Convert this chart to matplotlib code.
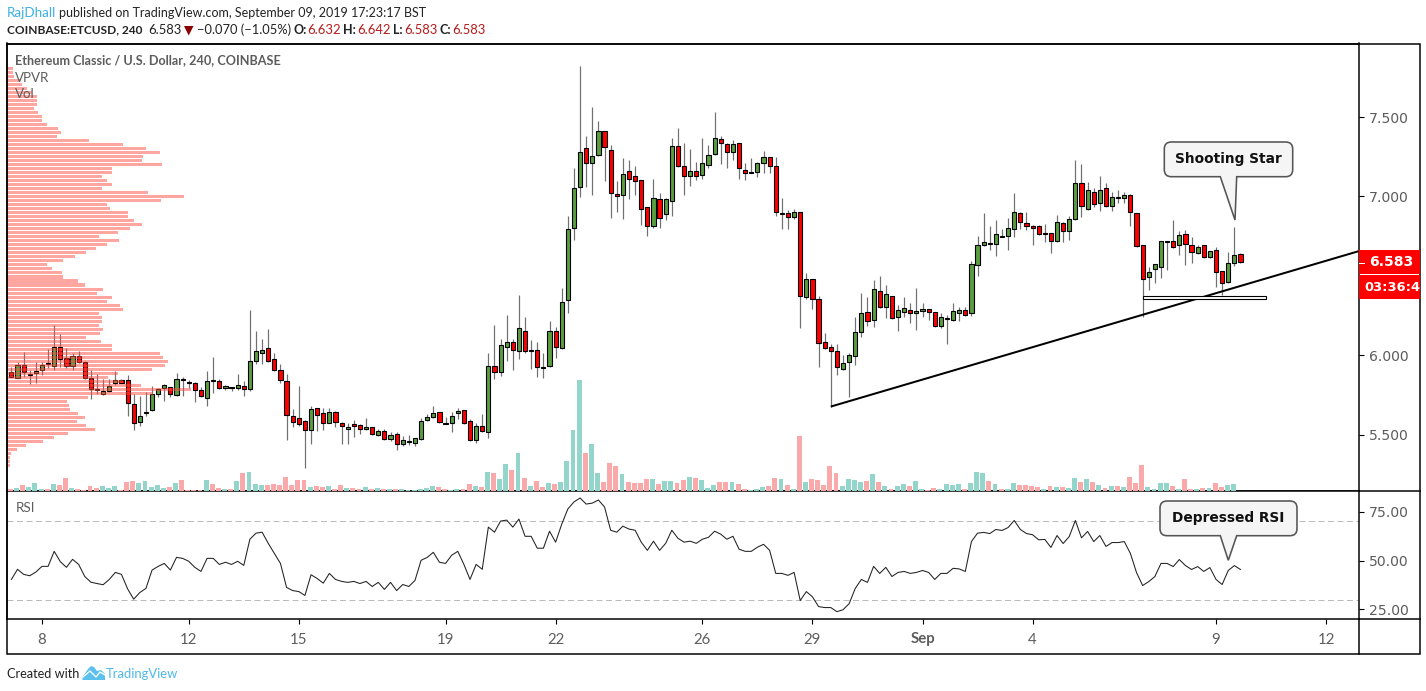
import matplotlib
matplotlib.use('Agg')
import matplotlib.pyplot as plt
import numpy as np
from matplotlib.path import Path
from matplotlib.patches import PathPatch, Rectangle, Polygon

# ETCUSD 4h candles
opens = [5.897,5.855,5.941,5.877,5.886,5.905,5.949,5.930,6.050,5.980,
         5.930,5.993,5.955,5.855,5.787,5.754,5.773,5.823,5.842,5.842,
         5.691,5.577,5.634,5.653,5.754,5.791,5.798,5.747,5.848,5.829,
         5.823,5.779,5.728,5.842,5.836,5.791,5.798,5.791,5.804,5.785,
         5.962,6.012,6.043,5.974,5.905,5.836,5.615,5.603,5.584,5.527,
         5.665,5.634,5.571,5.640,5.571,5.533,5.565,5.558,5.533,5.546,
         5.495,5.521,5.470,5.502,5.439,5.451,5.445,5.470,5.590,5.609,
         5.640,5.573,5.571,5.634,5.653,5.584,5.464,5.552,5.514,5.930,
         5.892,6.050,6.081,6.025,6.151,6.025,6.031,5.924,5.930,6.151,
         6.044,6.346,6.800,7.058,7.304,7.209,7.259,7.411,7.291,7.014,
         7.007,7.159,7.127,7.102,6.932,6.812,6.982,6.888,6.970,7.316,
         7.190,7.127,7.159,7.133,7.196,7.266,7.360,7.329,7.278,7.335,
         7.165,7.146,7.152,7.209,7.247,7.190,6.888,6.894,6.869,6.900,
         6.365,6.478,6.352,6.081,6.050,6.025,5.911,5.955,5.993,6.144,
         6.270,6.220,6.403,6.302,6.371,6.239,6.270,6.283,6.264,6.277,
         6.289,6.270,6.182,6.226,6.220,6.264,6.283,6.264,6.566,6.692,
         6.705,6.699,6.751,6.749,6.793,6.894,6.831,6.812,6.812,6.766,
         6.768,6.718,6.831,6.781,6.856,7.083,6.919,7.026,6.957,7.052,
         6.938,6.995,6.988,7.007,6.894,6.692,6.491,6.541,6.554,6.715,
         6.718,6.692,6.762,6.692,6.642,6.692,6.617,6.661,6.529,6.459,
         6.579,6.636]
closes = [5.861,5.941,5.892,5.882,5.899,5.941,5.943,6.050,5.978,5.930,
          5.993,5.955,5.855,5.785,5.783,5.773,5.804,5.842,5.827,5.697,
          5.571,5.615,5.640,5.754,5.785,5.810,5.754,5.848,5.842,5.823,
          5.779,5.741,5.836,5.836,5.791,5.804,5.791,5.810,5.785,5.962,
          6.025,6.031,5.962,5.905,5.842,5.621,5.577,5.565,5.527,5.659,
          5.621,5.571,5.640,5.577,5.552,5.546,5.552,5.533,5.546,5.502,
          5.521,5.470,5.495,5.439,5.464,5.458,5.477,5.584,5.609,5.634,
          5.577,5.569,5.615,5.647,5.571,5.464,5.552,5.521,5.930,5.892,
          6.062,6.081,6.031,6.170,6.025,6.031,5.924,5.918,6.151,6.050,
          6.333,6.793,7.052,7.278,7.209,7.253,7.411,7.310,7.020,7.001,
          7.140,7.108,7.096,6.919,6.812,6.989,6.863,6.982,7.316,7.190,
          7.127,7.159,7.127,7.209,7.259,7.367,7.335,7.278,7.329,7.178,
          7.146,7.152,7.209,7.247,7.190,6.900,6.894,6.869,6.900,6.371,
          6.478,6.352,6.075,6.043,6.025,5.924,5.949,5.999,6.144,6.264,
          6.214,6.415,6.302,6.384,6.233,6.283,6.295,6.264,6.277,6.289,
          6.270,6.182,6.239,6.233,6.277,6.283,6.251,6.573,6.692,6.711,
          6.699,6.762,6.747,6.800,6.900,6.837,6.812,6.800,6.762,6.770,
          6.718,6.837,6.781,6.856,7.083,6.938,7.039,6.951,7.039,6.938,
          6.995,6.988,7.007,6.900,6.686,6.478,6.522,6.573,6.718,6.720,
          6.680,6.755,6.699,6.648,6.680,6.617,6.655,6.522,6.453,6.579,
          6.629,6.585]
highs = [5.928,5.957,6.020,5.907,5.957,5.955,6.039,6.190,6.132,6.046,
         6.014,6.027,5.964,5.907,5.882,5.850,5.848,5.901,5.850,5.875,
         5.754,5.743,5.766,5.806,5.791,5.817,5.802,5.886,5.863,5.842,
         5.833,5.798,5.901,5.989,5.848,5.810,5.802,5.882,5.838,6.285,
         6.153,6.102,6.165,6.014,5.945,5.882,5.661,5.806,5.592,5.680,
         5.665,5.665,5.665,5.649,5.577,5.571,5.592,5.565,5.605,5.550,
         5.533,5.533,5.514,5.514,5.491,5.498,5.477,5.605,5.628,5.680,
         5.642,5.609,5.642,5.665,5.653,5.596,5.571,5.628,6.012,6.188,
         6.100,6.251,6.100,6.380,6.239,6.094,6.081,6.012,6.214,6.176,
         6.421,6.877,7.180,7.822,7.381,7.564,7.476,7.411,7.325,7.098,
         7.243,7.230,7.192,7.102,6.932,7.110,7.022,6.991,7.367,7.432,
         7.337,7.299,7.217,7.369,7.325,7.532,7.381,7.335,7.356,7.335,
         7.211,7.243,7.217,7.287,7.247,7.249,6.991,6.915,6.921,6.900,
         6.518,6.478,6.373,6.140,6.069,6.069,6.001,6.016,6.241,6.390,
         6.367,6.472,6.497,6.443,6.371,6.314,6.367,6.329,6.424,6.329,
         6.289,6.270,6.264,6.256,6.327,6.302,6.306,6.594,6.751,6.896,
         6.814,6.852,6.795,6.865,7.022,6.900,6.902,6.820,6.820,6.827,
         6.768,6.884,6.837,6.877,7.230,7.205,7.091,7.054,7.129,7.085,
         7.028,7.039,7.026,7.014,6.894,6.692,6.556,6.573,6.718,6.720,
         6.852,6.781,6.789,6.743,6.694,6.692,6.655,6.680,6.529,6.648,
         6.806,6.642]
lows = [5.861,5.855,5.865,5.821,5.827,5.875,5.922,5.907,5.928,5.917,
        5.909,5.949,5.848,5.724,5.756,5.750,5.766,5.815,5.825,5.617,
        5.529,5.554,5.617,5.651,5.739,5.712,5.739,5.745,5.745,5.794,
        5.705,5.739,5.680,5.764,5.785,5.783,5.775,5.779,5.745,5.775,
        5.947,5.945,5.957,5.899,5.823,5.466,5.548,5.554,5.290,5.443,
        5.525,5.529,5.571,5.550,5.443,5.443,5.487,5.506,5.527,5.498,
        5.493,5.464,5.460,5.403,5.428,5.437,5.430,5.466,5.588,5.603,
        5.575,5.565,5.516,5.600,5.569,5.462,5.449,5.516,5.479,5.850,
        5.871,5.966,5.907,5.978,6.016,5.915,5.865,5.859,5.924,5.985,
        6.037,6.268,6.726,6.997,7.060,7.010,7.253,7.098,6.865,6.902,
        6.858,6.984,7.010,6.821,6.751,6.802,6.802,6.852,6.877,7.188,
        7.010,7.066,7.104,7.110,7.180,7.261,7.205,7.180,7.230,7.110,
        7.104,7.146,7.123,7.148,7.148,6.877,6.795,6.795,6.858,6.172,
        6.352,6.291,5.928,6.039,5.676,5.875,5.909,5.739,5.941,6.117,
        6.186,6.180,6.295,6.237,6.230,6.155,6.243,6.203,6.161,6.243,
        6.222,6.180,6.174,6.073,6.214,6.216,6.249,6.249,6.499,6.688,
        6.663,6.625,6.743,6.663,6.745,6.795,6.789,6.694,6.758,6.715,
        6.644,6.715,6.713,6.726,6.852,6.871,6.915,6.936,6.911,6.932,
        6.909,6.961,6.957,6.814,6.684,6.243,6.411,6.457,6.484,6.537,
        6.678,6.631,6.566,6.583,6.636,6.610,6.613,6.432,6.382,6.453,
        6.564,6.583]
volumes = [6,9,18,12,24,6,6,21,18,39,
           9,6,3,15,9,15,9,15,3,27,
           30,24,30,12,18,9,12,24,33,3,
           3,3,33,21,9,6,6,30,54,57,
           21,18,18,21,18,42,18,33,33,12,
           15,12,15,6,18,9,9,6,12,6,
           9,6,6,6,6,3,3,6,9,15,
           12,6,3,6,6,21,15,12,57,54,
           36,81,63,114,39,15,30,12,24,21,
           27,90,183,333,114,141,54,27,84,75,
           51,27,24,24,36,36,21,30,30,24,
           33,42,39,33,9,18,27,27,27,21,
           6,3,6,12,15,39,36,18,6,165,
           27,36,33,18,75,54,15,36,33,27,
           30,51,27,15,6,15,21,15,30,6,
           3,9,6,21,18,21,6,24,57,54,
           30,21,6,6,24,18,18,15,12,6,
           15,12,12,9,39,27,36,27,18,9,
           15,15,12,42,24,78,12,6,24,24,
           15,6,36,6,6,9,9,24,12,18,
           21,0]
rsi = [40.3,45.5,42.9,42.2,44.1,47.0,47.0,54.7,49.4,46.5,
       50.6,48.0,41.8,38.9,38.2,37.6,40.3,43.9,42.9,35.5,
       30.2,33.6,35.7,45.1,47.0,48.5,45.1,51.6,51.1,49.6,
       46.5,44.4,51.1,51.1,48.0,49.1,48.0,49.6,47.5,60.9,
       64.0,64.5,58.8,53.7,48.5,36.2,34.6,34.1,32.1,42.7,
       40.8,38.4,43.4,40.3,39.3,38.8,39.3,38.2,39.3,36.7,
       38.8,35.2,38.8,34.6,37.7,36.7,39.8,50.1,51.6,54.2,
       49.1,48.5,52.7,54.7,48.0,40.3,48.0,45.5,67.1,64.5,
       70.2,70.7,67.1,71.2,62.4,62.4,56.3,56.3,65.0,59.4,
       68.6,76.4,80.0,82.0,78.9,79.4,81.0,77.4,65.5,64.5,
       67.6,66.1,65.5,59.4,55.2,59.9,55.2,58.8,65.5,61.4,
       59.4,59.9,58.8,60.9,61.9,65.0,63.5,60.9,62.4,55.8,
       54.7,54.7,56.8,58.3,55.2,43.4,43.4,42.4,43.9,29.5,
       34.1,31.4,26.4,25.9,25.9,23.8,24.8,27.9,35.7,40.3,
       38.8,47.0,43.4,46.5,41.8,43.9,44.4,43.4,43.9,44.9,
       43.9,40.3,43.4,43.4,46.0,45.7,44.4,59.7,64.0,64.4,
       63.8,65.9,65.4,66.9,70.5,65.9,63.8,63.2,60.6,60.8,
       56.7,62.8,58.7,62.3,70.5,61.6,64.9,59.7,62.8,57.2,
       59.2,59.2,59.7,53.6,43.8,37.2,39.2,41.8,48.5,48.5,
       46.9,50.5,47.4,45.4,46.9,44.4,46.4,40.3,37.7,44.9,
       47.4,45.4]
# volume profile rows, top of the price range first
vpvr = [5,5,6,12,14,19,24,29,29,29,26,30,34,34,39,50,53,49,81,115,
        138,152,135,134,154,104,104,94,99,104,94,140,176,153,99,102,120,120,126,134,
        122,110,91,111,99,88,78,67,55,39,44,54,55,70,77,95,89,104,99,112,
        115,91,94,94,91,95,92,78,93,104,104,152,155,160,157,144,110,100,115,133,
        183,145,80,59,61,62,70,77,69,78,87,60,46,35,18,9,3,2,2,2]

date_idx = [5, 29, 47, 71, 89, 113, 131, 149, 167, 197, 215]
date_labels = ['8', '12', '15', '19', '22', '26', '29', 'Sep', '4', '9', '12']
price_ticks = [5.5, 6.0, 6.5, 7.0, 7.5]
# 6.500 sits under the price flag in the reference
price_labels = ['5.500', '6.000', '', '7.000', '7.500']
rsi_ticks = [25, 50, 75]
rsi_bands = [30, 70]
trend_x = [134, 220.3]
trend_y = [5.676, 6.655]
zone_x = [185, 205.2]
zone_y = [6.352, 6.371]

W, H = 1426, 691
LEFT, RIGHT, TOP, SPLIT, BOTTOM = 7.0, 1358.5, 43.5, 491.0, 618.5

RED, GREEN = '#ff0000', '#5a9e3f'
VOL_RED, VOL_GREEN = '#f9a9a9', '#93d4cb'
GREY = '#5d5d5d'
px = 0.72  # one pixel in points at dpi 100


def box(x0, y0, x1, y1):
    return [x0 / W, 1 - y1 / H, (x1 - x0) / W, (y1 - y0) / H]


fig = plt.figure(figsize=(W / 100, H / 100), dpi=100, facecolor='white')
ax = fig.add_axes(box(LEFT, TOP, RIGHT, SPLIT))
ax_r = fig.add_axes(box(LEFT, SPLIT, RIGHT, BOTTOM), sharex=ax)

x = np.arange(len(opens))
o, c, h, l = map(np.array, (opens, closes, highs, lows))
up = c >= o

ax.vlines(x, l, h, color='#707070', lw=1.2 * px, zorder=2)
ax.bar(x, np.abs(c - o), bottom=np.minimum(o, c), width=0.68,
       color=np.where(up, GREEN, RED), edgecolor='black', linewidth=1.1 * px, zorder=3)
ax.plot(trend_x, trend_y, color='black', lw=2 * px, zorder=4, solid_capstyle='butt')
ax.add_patch(Rectangle((zone_x[0], zone_y[0]), zone_x[1] - zone_x[0], zone_y[1] - zone_y[0],
                       fc='white', ec='black', lw=1.1 * px, zorder=4))

# volume sits on its own scale at the foot of the price pane
ax_v = ax.twinx()
ax_v.bar(x - 0.15, volumes, width=0.8, color=np.where(up, VOL_GREEN, VOL_RED), linewidth=0)
ax_v.set_ylim(0, (SPLIT - TOP) * 3)
ax_v.axis('off')

# volume profile on top of the candles, left edge of the pane
ax_p = ax.twiny()
edges = np.linspace(l.min(), h.max(), len(vpvr) + 1)
mids = (edges[1:] + edges[:-1]) / 2
ax_p.barh(mids[::-1], vpvr, height=(edges[1] - edges[0]) * 0.76, color='#ff4f45', alpha=0.5, linewidth=0)
ax_p.set_xlim(-1, RIGHT - LEFT - 1)
ax_p.axis('off')

# twinx and twiny move the main ticks, so set them after
ax.set_xlim(-0.72, 220.3)
ax.set_ylim(5.144, 7.964)
ax.yaxis.tick_right()
ax.set_yticks(price_ticks)
ax.set_yticklabels(price_labels, family='DejaVu Sans', fontsize=14 * px, color=GREY)
ax.tick_params(axis='y', length=5 * px, width=1.1 * px, pad=5 * px)
ax.tick_params(axis='x', length=0, labelbottom=False, labeltop=False, top=False, bottom=False)

ax_r.axhline(rsi_bands[0], color='#bbbbbb', lw=1 * px, ls=(0, (6, 3.5)))
ax_r.axhline(rsi_bands[1], color='#bbbbbb', lw=1 * px, ls=(0, (6, 3.5)))
ax_r.plot(x, rsi, color='#222222', lw=1.05 * px)
ax_r.set_ylim(20.3, 85.6)
ax_r.yaxis.tick_right()
ax_r.set_yticks(rsi_ticks)
ax_r.set_yticklabels(['%.2f' % v for v in rsi_ticks], family='DejaVu Sans', fontsize=14 * px, color=GREY)
ax_r.tick_params(axis='y', length=5 * px, width=1.1 * px, pad=5 * px)
ax_r.set_xticks(date_idx)
ax_r.set_xticklabels(date_labels, family='Lato', fontsize=15 * px, color=GREY)
ax_r.get_xticklabels()[date_labels.index('Sep')].set_fontweight('bold')
ax_r.tick_params(axis='x', length=5 * px, width=1.1 * px, pad=9 * px)

for a in (ax, ax_r):
    for s in a.spines.values():
        s.set_linewidth(1.5 * px)
    a.set_facecolor('white')

# overlay in picture pixels for the frame, header, callouts and price flags
ov = fig.add_axes([0, 0, 1, 1], zorder=10)
ov.set_xlim(0, W)
ov.set_ylim(H, 0)
ov.axis('off')
ov.patch.set_alpha(0)

ov.add_patch(Rectangle((6.5, TOP), 1413, 654 - TOP, fill=False, ec='black', lw=1.5 * px))
ov.plot([RIGHT, 1419.5], [SPLIT, SPLIT], color='black', lw=1.5 * px)
ov.plot([RIGHT, 1419.5], [BOTTOM, BOTTOM], color='black', lw=1.5 * px)
ov.plot([RIGHT, RIGHT], [BOTTOM, 654], color='black', lw=1.5 * px)


def label(xp, yp, s, color='#222222', size=12.5, weight='normal', family='Lato', **kw):
    return ov.text(xp, yp, s, color=color, fontsize=size * px, fontweight=weight,
                   family=family, va='center', **kw)


label(6.7, 12.7, 'RajDhall', color='#3bb0e3', size=13.4)
label(58.7, 12.7, 'published on TradingView.com, September 09, 2019 17:23:17 BST')
label(6.7, 29.7, 'COINBASE:ETCUSD, 240', weight='bold', size=11.9)
label(148, 29.7, '6.583', size=13)
ov.add_patch(Polygon([(184, 26), (193.5, 26), (188.7, 35.5)], fc='#8b0000', ec='none'))
label(197, 29.7, '\u22120.070 (\u22121.05%)', size=12.9)
for xk, k, xv, v in [(293, 'O:', 307, '6.632'), (343, 'H:', 357, '6.642'),
                     (393, 'L:', 404, '6.583'), (440, 'C:', 452, '6.583')]:
    label(xk, 29.7, k, weight='bold', size=12.5)
    label(xv, 29.7, v, color='#b71c1c', size=13)

label(15.3, 60.5, 'Ethereum Classic / U.S. Dollar, 240, COINBASE', color=GREY, weight='bold', size=12.6)
label(15.3, 77.5, 'VPVR', color=GREY, size=13.4)
label(15.3, 94.3, 'Vol', color=GREY, size=13.4)
label(15.3, 508.5, 'RSI', color=GREY, size=13.4)

# price flag and countdown
ov.add_patch(Rectangle((RIGHT, 250), 1419.5 - RIGHT, 24, fc='#ff0000', ec='none'))
ov.add_patch(Rectangle((RIGHT, 275), 1419.5 - RIGHT, 23.7, fc='#ff0000', ec='none'))
ov.plot([RIGHT, 1363.5], [262.5, 262.5], color='white', lw=1 * px)
label(1369, 262.3, '6.583', color='white', size=14, weight='bold', family='DejaVu Sans')
label(1364, 287, '03:36:4', color='white', size=13, weight='bold', family='DejaVu Sans',
      clip_on=True)


def callout(x0, y0, x1, y1, p0, p1, tx, ty, text, r=7):
    verts = [(x0 + r, y0), (x1 - r, y0), (x1, y0), (x1, y0 + r), (x1, y1 - r), (x1, y1), (x1 - r, y1),
             (p1, y1), (tx, ty), (p0, y1), (x0 + r, y1), (x0, y1), (x0, y1 - r), (x0, y0 + r), (x0, y0),
             (x0 + r, y0), (x0 + r, y0)]
    codes = [Path.MOVETO, Path.LINETO, Path.CURVE3, Path.CURVE3, Path.LINETO, Path.CURVE3, Path.CURVE3,
             Path.LINETO, Path.LINETO, Path.LINETO, Path.LINETO, Path.CURVE3, Path.CURVE3, Path.LINETO,
             Path.CURVE3, Path.CURVE3, Path.CLOSEPOLY]
    ov.add_patch(PathPatch(Path(verts, codes), fc='#f5f5f5', ec='#555555', lw=1.6 * px))
    label((x0 + x1) / 2, (y0 + y1) / 2 - 0.5, text, color='#111111', size=13.8, weight='bold',
          family='DejaVu Sans', ha='center')


callout(1164.3, 142, 1292.7, 176.7, 1220.3, 1236.7, 1235, 220, 'Shooting Star')
callout(1160, 501, 1297, 535.7, 1220.3, 1236.7, 1228.3, 560.3, 'Depressed RSI')

# footer with the little logo
label(6.7, 674, 'Created with', size=12.8)
ov.add_patch(Polygon([(82.5, 680), (82.5, 677), (88, 669), (91, 666), (94, 667), (97, 671), (101, 670),
                      (105, 674), (105, 680)], fc='#5bc0eb', ec='none'))
ov.plot([83, 90, 96, 100, 105], [677, 671, 677, 672, 675], color='white', lw=1.3 * px)
label(106, 674, 'TradingView', color='#4db8e8', size=13)

fig.savefig('out.png', dpi=100)
